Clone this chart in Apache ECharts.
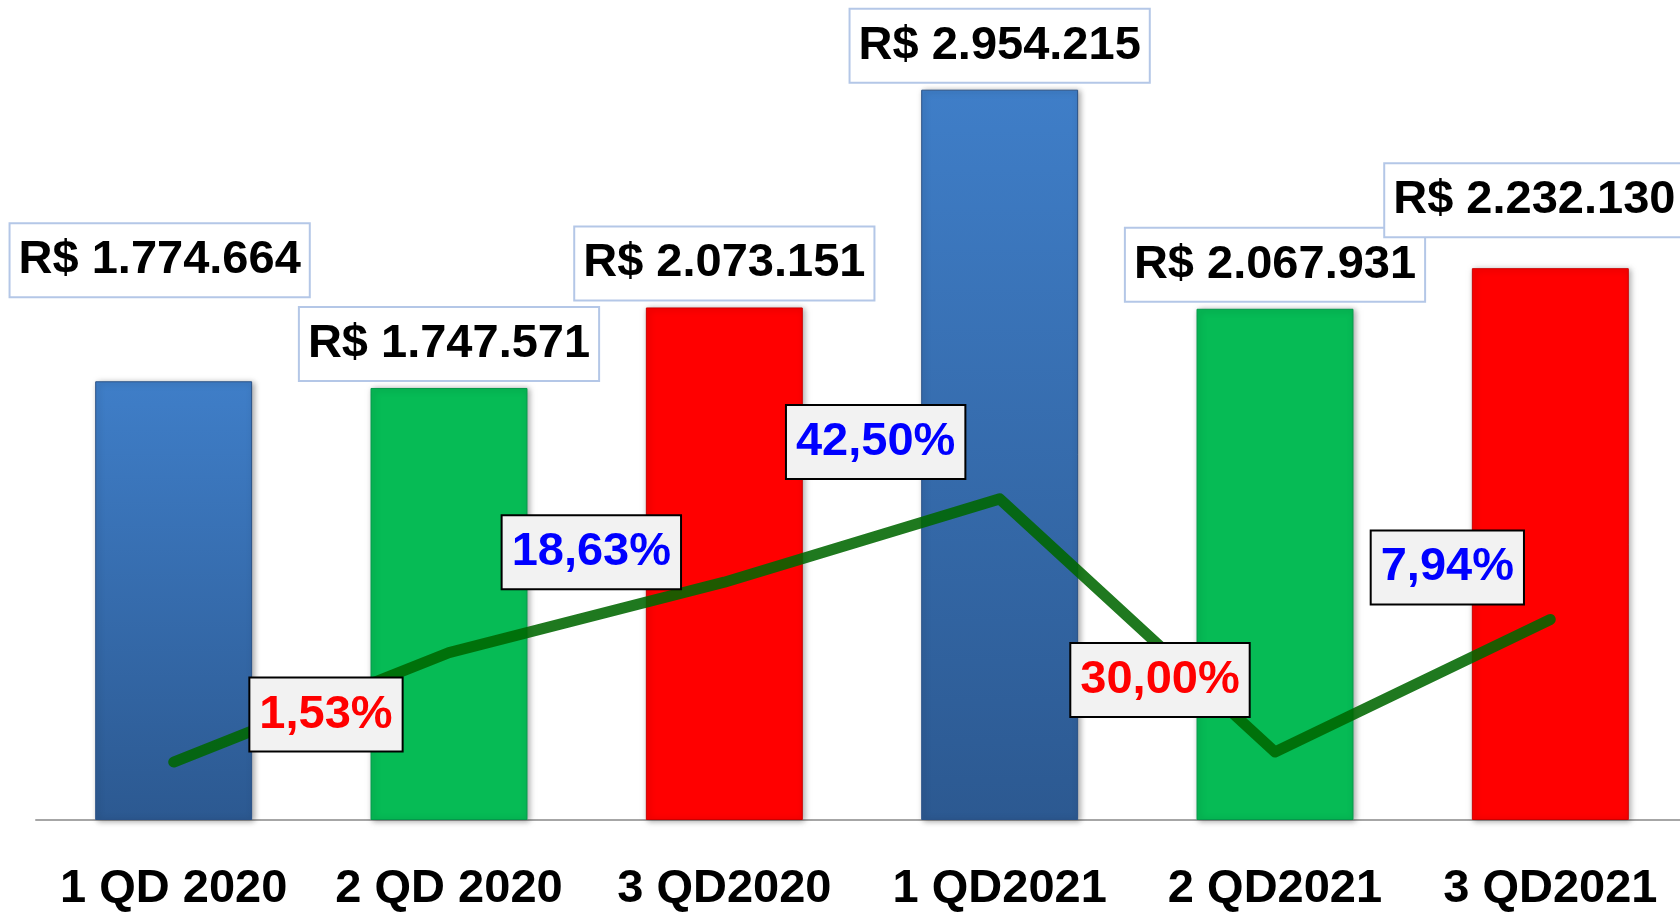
<!DOCTYPE html>
<html>
<head>
<meta charset="utf-8">
<script src="https://cdn.jsdelivr.net/npm/echarts@6/dist/echarts.min.js"></script>
<style>
  html, body { margin: 0; padding: 0; background: #fff; }
  #main { width: 1680px; height: 912px; }
</style>
</head>
<body>
<div id="main"></div>
<script>
const categories = ['1 QD 2020', '2 QD 2020', '3 QD2020', '1 QD2021', '2 QD2021', '3 QD2021']
const revenue = [1774664, 1747571, 2073151, 2954215, 2067931, 2232130]
// growth line (%), first point, no label on it
const growth = [-32.9, -1.53, 18.63, 42.5, -30.0, 7.94]
const growthText = ['', '1,53%', '18,63%', '42,50%', '30,00%', '7,94%']

const FONT = '"Liberation Sans", Arial, sans-serif'

// label nudges (px), taken from where the boxes sit in the picture
const barLabelShift = [[-14, -77], [0, 0], [0, 0], [0, 0], [0, 0], [-16, -24]]
const lineLabelShift = [[0, 0], [-123, 62], [-133, -30], [-124, -57], [-115, -72], [-103, -52]]

const fmtBRL = v => 'R$ ' + String(v).replace(/\B(?=(\d{3})+(?!\d))/g, '.')

const blue = new echarts.graphic.LinearGradient(0, 0, 0, 1, [
  { offset: 0, color: '#3f7ec8' },
  { offset: 1, color: '#2c5991' },
])
const barColors = [blue, '#06bb55', '#ff0000', blue, '#06bb55', '#ff0000']
const barBorders = ['#2a5287', '#04994a', '#cc0000', '#2a5287', '#04994a', '#cc0000']

const chartDom = document.getElementById('main')
const myChart = echarts.init(chartDom)

const option = {
  animation: false,
  grid: { left: 36, top: 20, width: 1652, height: 800, containLabel: false, outerBoundsMode: 'none' },
  xAxis: {
    type: 'category',
    data: categories,
    axisTick: { show: false },
    axisLine: { lineStyle: { color: '#a6a6a6', width: 2 } },
    axisLabel: {
      interval: 0,
      color: '#000',
      fontFamily: FONT,
      fontWeight: 'bold',
      fontSize: 47,
      margin: 46,
    },
  },
  yAxis: [
    { type: 'value', min: 0, max: 3236000, show: false, splitLine: { show: false } },
    { type: 'value', min: -49.5, max: 179.7, show: false, splitLine: { show: false } },
  ],
  series: [
    {
      type: 'bar',
      barWidth: '57%',
      data: revenue.map((v, i) => ({
        value: v,
        itemStyle: { color: barColors[i], borderColor: barBorders[i] },
        label: { offset: barLabelShift[i] },
      })),
      itemStyle: {
        borderWidth: 1,
        shadowColor: 'rgba(0,0,0,0.35)',
        shadowBlur: 6,
        shadowOffsetX: 2,
        shadowOffsetY: 1,
      },
      label: {
        show: true,
        position: 'top',
        distance: 8,
        formatter: p => fmtBRL(p.value),
        color: '#000',
        fontFamily: FONT,
        fontWeight: 'bold',
        fontSize: 47,
        lineHeight: 50,
        backgroundColor: '#fff',
        borderColor: '#b4c7e7',
        borderWidth: 2,
        padding: [11, 8],
      },
    },
    {
      type: 'line',
      yAxisIndex: 1,
      z: 5,
      symbol: 'circle',
      symbolSize: 1,
      itemStyle: { color: 'transparent' },
      lineStyle: { color: '#006600', width: 11, opacity: 0.88, cap: 'round', join: 'round' },
      data: growth.map((v, i) => ({
        value: v,
        label: {
          show: growthText[i] !== '',
          color: v < 0 ? '#ff0000' : '#0000ff',
          offset: lineLabelShift[i],
        },
      })),
      label: {
        position: 'inside',
        formatter: p => growthText[p.dataIndex],
        fontFamily: FONT,
        fontWeight: 'bold',
        fontSize: 47,
        lineHeight: 50,
        backgroundColor: '#f2f2f2',
        borderColor: '#000',
        borderWidth: 2,
        padding: [11, 9],
      },
    },
  ],
}
option && myChart.setOption(option)
</script>
</body>
</html>
